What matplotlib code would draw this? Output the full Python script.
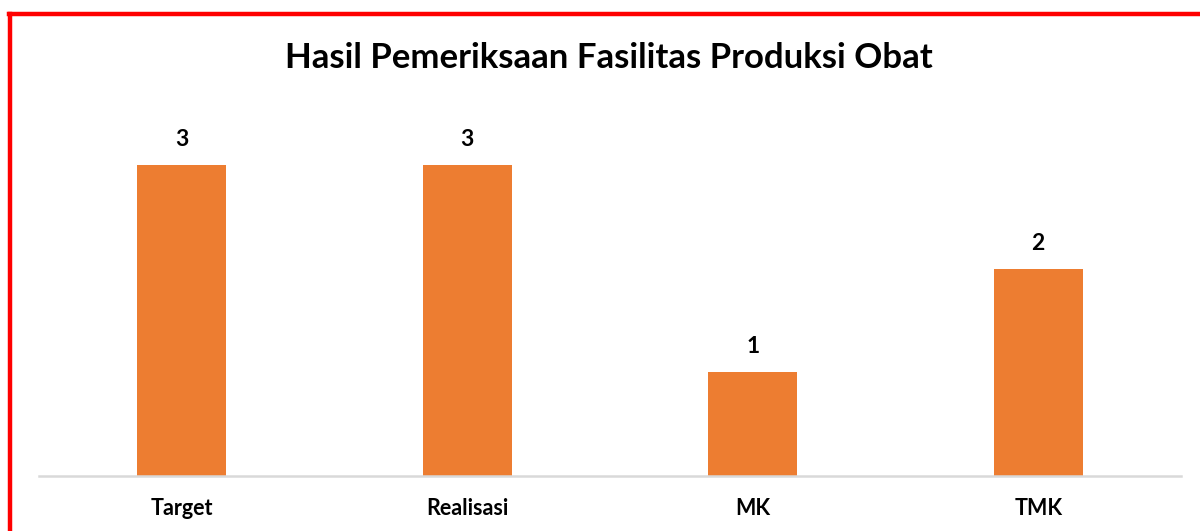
import matplotlib.pyplot as plt
from matplotlib.lines import Line2D

categories = ["Target", "Realisasi", "MK", "TMK"]
values = [3, 3, 1, 2]

W, H = 1200, 531
fig = plt.figure(figsize=(W / 100, H / 100), dpi=100)
fig.patch.set_facecolor("white")

font = ["Lato", "DejaVu Sans"]

# axes placed by pixel: left 39, right 1181, baseline at y=476
ax = fig.add_axes([39 / W, 1 - 476 / H, (1181 - 39) / W, 362.6 / H])
x = range(len(categories))
ax.bar(x, values, width=0.312, color="#ED7D31", zorder=2)
ax.set_xlim(-0.5, len(categories) - 0.5)
ax.set_ylim(0, 3.5)

for xi, v in zip(x, values):
    ax.annotate(str(v), (xi, v), xytext=(0, 11), textcoords="offset points",
                ha="center", va="bottom", fontsize=16.5, fontweight="bold",
                family=font, color="black")

ax.set_xticks(list(x))
ax.set_xticklabels(categories, fontsize=15.5, fontweight="bold", family=font)
ax.tick_params(axis="x", length=0, pad=16)
ax.set_yticks([])
for s in ["top", "right", "left"]:
    ax.spines[s].set_visible(False)
ax.spines["bottom"].set_color("#d9d9d9")
ax.spines["bottom"].set_linewidth(1.8)

fig.text(609 / W, 1 - 58 / H, "Hasil Pemeriksaan Fasilitas Produksi Obat",
         ha="center", va="center", fontsize=25, fontweight="bold", family=font)

# red frame (left and top)
fig.add_artist(Line2D([10 / W, 10 / W], [0, 1 - 14 / H], color="red", lw=3.2, transform=fig.transFigure))
fig.add_artist(Line2D([8.5 / W, 1], [1 - 14 / H, 1 - 14 / H], color="red", lw=3.2, transform=fig.transFigure))

fig.savefig("out.png", dpi=100)
